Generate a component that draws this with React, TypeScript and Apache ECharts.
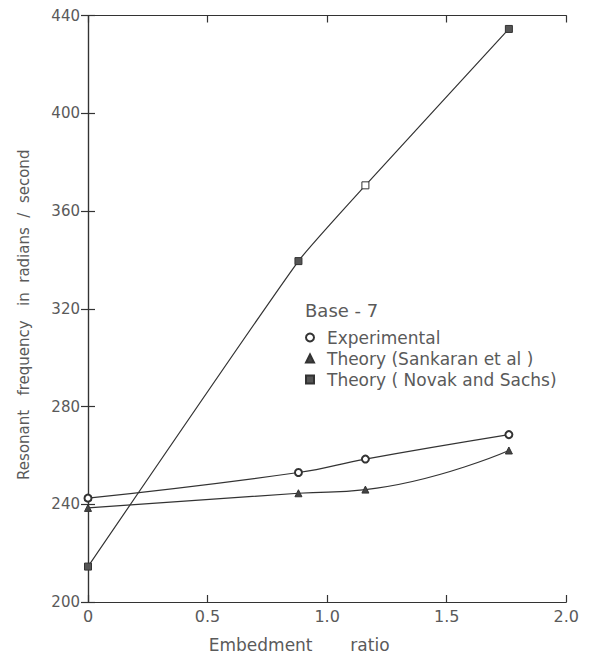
import React, { useEffect, useRef } from "react";
import * as echarts from "echarts";

const xTicks = [0, 0.5, 1.0, 1.5, 2.0];
const yTicks = [200, 240, 280, 320, 360, 400, 440];
const embedment = [0, 0.88, 1.16, 1.76];
const experimental = [242.5, 253, 258.5, 268.5];
const sankaran = [238.5, 244.5, 246, 262];
const novakSachs = [214.5, 339.5, 370.5, 434.5];
const seriesNames = ["Experimental", "Theory (Sankaran et al )", "Theory ( Novak and Sachs)"];

const FONT = "'DejaVu Sans', Lato, sans-serif";
const TXT = "#5a5a5a";
const INK = "#333";

const pairs = (ys: number[]) => embedment.map((x, i) => [x, ys[i]]);

export default function App() {
  const ref = useRef<HTMLDivElement>(null);
  useEffect(() => {
    if (!ref.current) return;
    const chart = echarts.init(ref.current, null, { renderer: "svg" });
    const axisLine = { show: true, lineStyle: { color: INK, width: 1.2 } };
    const tickIn = { show: true, inside: true, length: 7, lineStyle: { color: INK, width: 1.2 } };
    chart.setOption({
      animation: false,
      backgroundColor: "#fff",
      textStyle: { fontFamily: FONT },
      title: {
        text: "Base - 7",
        left: 292,
        top: 288,
        textStyle: { fontFamily: FONT, fontSize: 18, fontWeight: "normal", color: TXT },
      },
      legend: {
        orient: "vertical",
        left: 292,
        top: 316,
        itemWidth: 8,
        itemHeight: 8,
        itemGap: 4,
        data: [
          { name: seriesNames[0], icon: "emptyCircle" },
          { name: seriesNames[1], icon: "triangle" },
          { name: seriesNames[2], icon: "rect" },
        ],
        textStyle: { fontFamily: FONT, fontSize: 17, color: TXT, padding: [0, 0, 0, 8] },
      },
      grid: { left: 75, right: 4, top: 5, bottom: 46 },
      xAxis: [
        {
          type: "value",
          min: xTicks[0],
          max: xTicks[xTicks.length - 1],
          interval: 0.5,
          name: "Embedment       ratio",
          nameLocation: "middle",
          nameGap: 34,
          nameTextStyle: { fontFamily: FONT, fontSize: 17, color: TXT, padding: [0, 56, 0, 0] },
          axisLine,
          axisTick: tickIn,
          splitLine: { show: false },
          axisLabel: {
            fontFamily: FONT,
            fontSize: 16,
            color: TXT,
            margin: 6,
            formatter: (v: number) => (v === 0 ? "0" : v.toFixed(1)),
          },
        },
        {
          type: "value",
          position: "top",
          min: xTicks[0],
          max: xTicks[xTicks.length - 1],
          interval: 0.5,
          axisLine,
          axisTick: tickIn,
          axisLabel: { show: false },
          splitLine: { show: false },
        },
      ],
      yAxis: [
        {
          type: "value",
          min: yTicks[0],
          max: yTicks[yTicks.length - 1],
          interval: 40,
          name: "Resonant   frequency   in  radians  /  second",
          nameLocation: "middle",
          nameGap: 57,
          nameTextStyle: { fontFamily: FONT, fontSize: 15, color: TXT, padding: [0, 12, 0, 0] },
          axisLine,
          axisTick: tickIn,
          splitLine: { show: false },
          axisLabel: { fontFamily: FONT, fontSize: 15, color: TXT, margin: 8 },
        },
        {
          type: "value",
          position: "right",
          min: yTicks[0],
          max: yTicks[yTicks.length - 1],
          interval: 40,
          axisLine,
          axisTick: tickIn,
          axisLabel: { show: false },
          splitLine: { show: false },
        },
      ],
      series: [
        {
          name: seriesNames[0],
          type: "line",
          data: pairs(experimental),
          smooth: 0.45,
          symbol: "emptyCircle",
          symbolSize: 7,
          lineStyle: { color: INK, width: 1.2 },
          itemStyle: { color: INK, borderColor: INK, borderWidth: 1.2 },
        },
        {
          name: seriesNames[1],
          type: "line",
          data: pairs(sankaran),
          smooth: 0.5,
          symbol: "triangle",
          symbolSize: 7,
          lineStyle: { color: INK, width: 1.2 },
          itemStyle: { color: "#444", borderColor: INK, borderWidth: 1 },
        },
        {
          name: seriesNames[2],
          type: "line",
          data: pairs(novakSachs).map((p, i) =>
            i === 2 ? { value: p, itemStyle: { color: "#fff" } } : p
          ),
          smooth: 0.15,
          symbol: "rect",
          symbolSize: 7,
          lineStyle: { color: INK, width: 1.2 },
          itemStyle: { color: "#555", borderColor: INK, borderWidth: 1 },
        },
      ],
    });
    return () => chart.dispose();
  }, []);
  return <div ref={ref} style={{ width: 574, height: 650 }} />;
}
